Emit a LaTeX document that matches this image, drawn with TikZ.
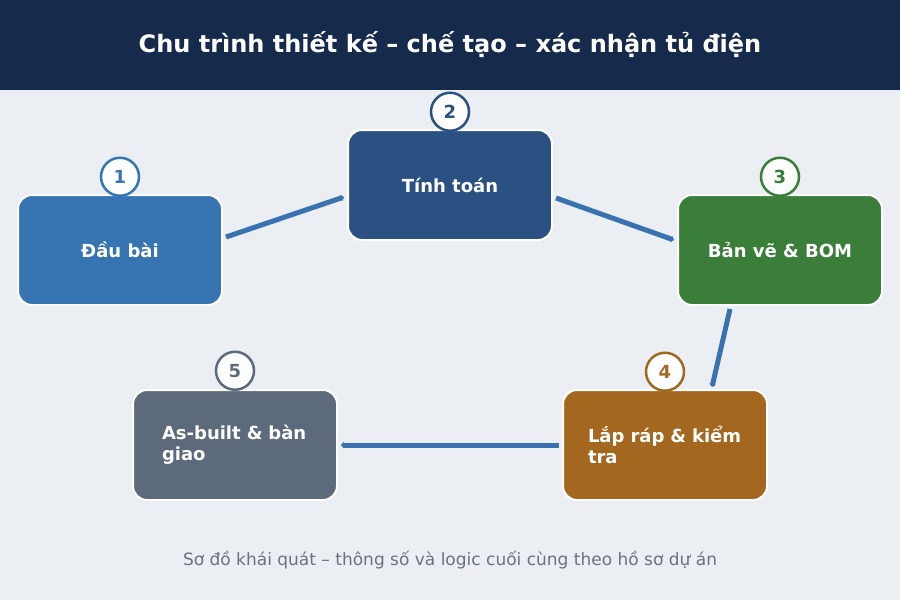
\documentclass[tikz,border=0pt]{standalone}
\usepackage{fontspec}
\setmainfont{DejaVu Sans}
\usetikzlibrary{arrows.meta, calc, positioning}

\definecolor{headbg}{HTML}{162B4C}
\definecolor{pagebg}{HTML}{EBEEF2}
\definecolor{cdaubai}{HTML}{3674B2}
\definecolor{ctinh}{HTML}{2A5181}
\definecolor{cbanve}{HTML}{3A7E3A}
\definecolor{claprap}{HTML}{A4671F}
\definecolor{casbuilt}{HTML}{5D6A7B}
\definecolor{cflow}{HTML}{3A72B0}
\definecolor{cnote}{HTML}{6B7280}

\tikzset{
  stage/.style={draw=white, line width=2pt, rounded corners=14pt,
    minimum width=204pt, minimum height=110pt, text=white,
    font=\fontsize{18}{21}\selectfont\bfseries, fill=#1},
  badge/.style={circle, draw=#1, line width=2.5pt, fill=white,
    minimum size=38pt, inner sep=0pt, text=#1,
    font=\fontsize{18}{20}\selectfont\bfseries},
  flow/.style={draw=cflow, line width=5pt,
    -{Stealth[length=3pt, width=7pt]}, shorten <=0pt, shorten >=0pt}
}

\begin{document}
\begin{tikzpicture}[x=1pt, y=-1pt]
  % background and header
  \fill[pagebg] (0,0) rectangle (900,600);
  \fill[headbg] (0,0) rectangle (900,90);
  \node[text=white, font=\fontsize{24}{28}\selectfont\bfseries] (title) at (450,45)
    {Chu trình thiết kế – chế tạo – xác nhận tủ điện};

  % stages
  \node[stage=cdaubai]  (b1) at (120,250) {Đầu bài};
  \node[stage=ctinh]    (b2) at (450,185) {Tính toán};
  \node[stage=cbanve]   (b3) at (780,250) {Bản vẽ \& BOM};
  \node[stage=claprap, align=left, text width=154pt]  (b4) at (665,445)
    {Lắp ráp \& kiểm\\tra};
  \node[stage=casbuilt, align=left, text width=146pt] (b5) at (235,445)
    {\mbox{As-built \& bàn}\\giao};

  % step numbers
  \node[badge=cdaubai]  (n1) [above=-3pt of b1] {1};
  \node[badge=ctinh]    (n2) [above=-3pt of b2] {2};
  \node[badge=cbanve]   (n3) [above=-3pt of b3] {3};
  \node[badge=claprap]  (n4) [above=-3pt of b4] {4};
  \node[badge=casbuilt] (n5) [above=-2pt of b5] {5};

  % flow
  \draw[flow] ($(b1.east)+(3,-13)$) -- ($(b2.west)+(-3,12)$);
  \draw[flow] ($(b2.east)+(3,13)$) -- ($(b3.west)+(-3,-10)$);
  \draw[flow] ($(b3.south)+(-50,3)$) -- ($(b4.north)+(47,-2)$);
  \draw[flow] ($(b4.west)+(-3,0)$) -- ($(b5.east)+(3,0)$);

  \node[text=cnote, font=\fontsize{17}{20}\selectfont] (note) at (450,560)
    {Sơ đồ khái quát – thông số và logic cuối cùng theo hồ sơ dự án};
\end{tikzpicture}
\end{document}
